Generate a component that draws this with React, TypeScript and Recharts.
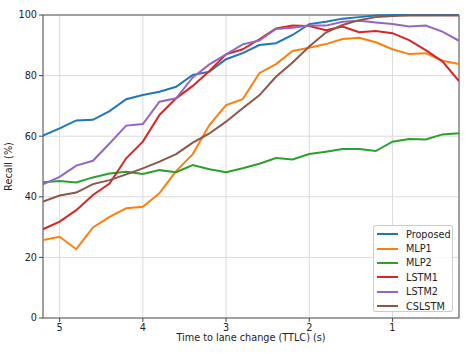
import React from "react";
import {
  LineChart,
  Line,
  XAxis,
  YAxis,
  CartesianGrid,
  ReferenceArea,
} from "recharts";

const ttlc = [
  5.2, 5.0, 4.8, 4.6, 4.4, 4.2, 4.0, 3.8, 3.6, 3.4, 3.2, 3.0, 2.8, 2.6, 2.4,
  2.2, 2.0, 1.8, 1.6, 1.4, 1.2, 1.0, 0.8, 0.6, 0.4, 0.2,
];

const proposed = [
  60.2, 62.6, 65.2, 65.4, 68.3, 72.2, 73.6, 74.7, 76.3, 80.2, 81.3, 85.4, 87.4,
  90.1, 90.7, 93.4, 97.0, 97.8, 98.8, 99.3, 99.8, 100, 100, 100, 100, 100,
];
const mlp1 = [
  25.7, 26.8, 22.7, 29.9, 33.4, 36.2, 36.7, 41.2, 48.5, 54.1, 63.7, 70.3, 72.2,
  80.8, 83.8, 88.1, 89.2, 90.4, 92.1, 92.5, 91.0, 88.7, 87.1, 87.4, 84.9, 83.8,
];
const mlp2 = [
  44.8, 45.2, 44.7, 46.4, 47.7, 48.3, 47.5, 48.8, 48.1, 50.5, 49.1, 48.1, 49.4,
  50.9, 52.8, 52.3, 54.1, 54.9, 55.8, 55.8, 55.1, 58.2, 59.1, 58.9, 60.6, 61.0,
];
const lstm1 = [
  29.3, 31.8, 35.6, 40.6, 44.4, 52.7, 58.2, 67.0, 72.5, 76.6, 81.5, 87.0, 88.7,
  92.0, 95.6, 96.5, 96.4, 95.0, 96.2, 94.3, 94.7, 94.0, 91.7, 88.4, 84.7, 78.2,
];
const lstm2 = [
  44.1, 46.6, 50.3, 51.9, 57.6, 63.5, 64.0, 71.4, 72.5, 79.4, 83.7, 87.0, 90.3,
  91.6, 95.4, 95.8, 96.5, 96.5, 97.8, 98.1, 97.5, 97.0, 96.2, 96.5, 94.5, 91.5,
];
const cslstm = [
  38.4, 40.4, 41.4, 44.2, 45.5, 47.4, 49.4, 51.6, 54.1, 57.9, 60.9, 64.8, 69.2,
  73.5, 79.6, 84.3, 89.6, 94.2, 96.7, 98.3, 99.3, 99.7, 99.8, 99.8, 99.8, 99.8,
];

const xTicks = [5, 4, 3, 2, 1];
const yTicks = [0, 20, 40, 60, 80, 100];

const series = [
  { key: "Proposed", values: proposed, color: "#1f77b4" },
  { key: "MLP1", values: mlp1, color: "#ff7f0e" },
  { key: "MLP2", values: mlp2, color: "#2ca02c" },
  { key: "LSTM1", values: lstm1, color: "#d62728" },
  { key: "LSTM2", values: lstm2, color: "#9467bd" },
  { key: "CSLSTM", values: cslstm, color: "#8c564b" },
];

const data = ttlc.map((t, i) => {
  const row: any = { t };
  series.forEach((s) => {
    row[s.key] = s.values[i];
  });
  return row;
});

const font = "DejaVu Sans, sans-serif";
const tickStyle = { fontSize: 9.7, fill: "#222", fontFamily: font };

export default function App() {
  return (
    <div style={{ position: "absolute", left: 0, top: 0, width: 471, height: 353, background: "#fff" }}>
      <LineChart
        width={471}
        height={353}
        data={data}
        margin={{ top: 15, right: 12, left: 0, bottom: 0 }}
      >
        <CartesianGrid stroke="#dadada" strokeWidth={1} />
        <XAxis
          dataKey="t"
          type="number"
          domain={[0.2, 5.2]}
          reversed
          ticks={xTicks}
          allowDataOverflow
          height={35}
          tick={tickStyle}
          tickSize={4}
          tickLine={{ stroke: "#444" }}
          axisLine={false}
          label={{
            value: "Time to lane change (TTLC) (s)",
            position: "insideBottom",
            offset: 12,
            style: { fontSize: 9.7, fill: "#222", fontFamily: font },
          }}
        />
        <YAxis
          type="number"
          domain={[0, 100]}
          ticks={yTicks}
          width={43}
          tick={tickStyle}
          tickSize={4}
          tickLine={{ stroke: "#444" }}
          axisLine={false}
          label={{
            value: "Recall (%)",
            angle: -90,
            position: "insideLeft",
            offset: 9,
            style: { fontSize: 9.7, fill: "#222", fontFamily: font, textAnchor: "middle" },
          }}
        />
        {series.map((s) => (
          <Line
            key={s.key}
            dataKey={s.key}
            stroke={s.color}
            strokeWidth={2}
            dot={false}
            type="linear"
            isAnimationActive={false}
          />
        ))}
        <ReferenceArea
          x1={5.2}
          x2={0.2}
          y1={0}
          y2={100}
          fill="none"
          stroke="#555"
          strokeWidth={1}
          ifOverflow="visible"
        />
      </LineChart>
      <div
        style={{
          position: "absolute",
          left: 373,
          top: 225,
          width: 80,
          height: 87,
          border: "1px solid #ccc",
          borderRadius: 2,
          background: "rgba(255,255,255,0.85)",
          fontFamily: font,
          fontSize: 9.7,
          color: "#222",
          boxSizing: "border-box",
          paddingTop: 1,
        }}
      >
        {series.map((s) => (
          <div key={s.key} style={{ display: "flex", alignItems: "center", height: 14.4 }}>
            <span
              style={{
                display: "inline-block",
                width: 21,
                height: 2,
                background: s.color,
                marginLeft: 3,
                marginRight: 8,
              }}
            />
            <span>{s.key}</span>
          </div>
        ))}
      </div>
    </div>
  );
}
